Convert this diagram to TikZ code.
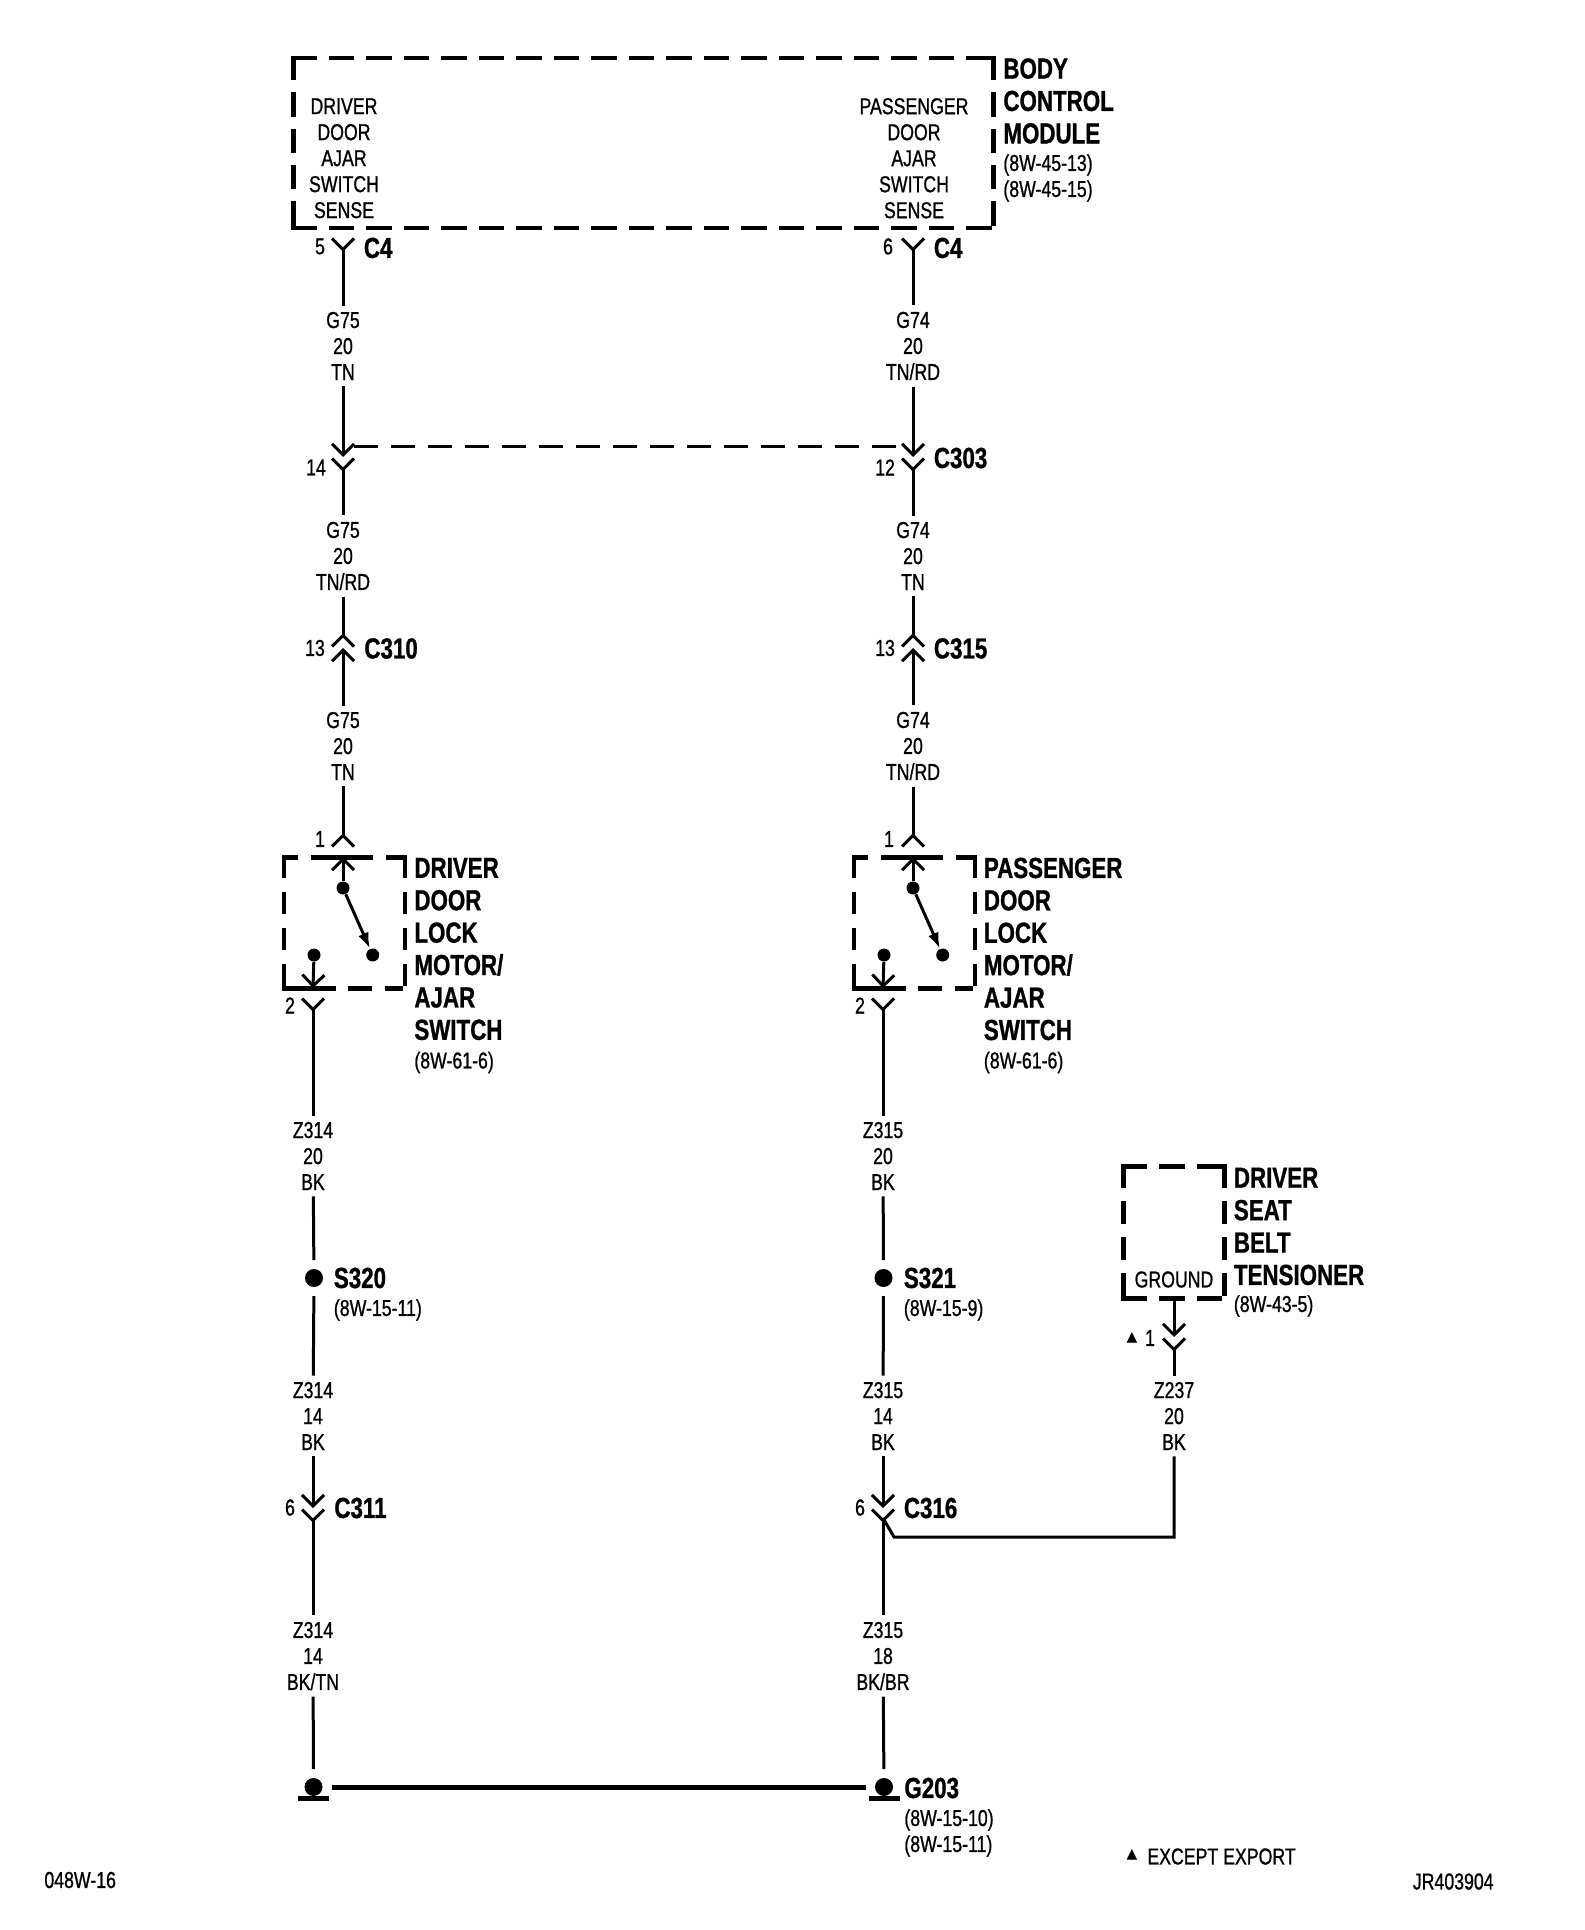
\documentclass[tikz,border=0pt]{standalone}
\usepackage{fontspec}
\setmainfont[FakeStretch=0.77, FakeBold=0.9]{Liberation Sans}
\newfontfamily\symfont{DejaVu Sans}
\usetikzlibrary{arrows.meta}
\tikzset{
  chev/.tip={Straight Barb[length=5.5pt, width=11pt, line width=1.5pt]},
  rchev/.tip={chev[reversed]},
  wire/.style={line width=1.5pt},
  thintext/.style={font=\fontsize{11.5pt}{13pt}\selectfont, inner sep=0pt},
  wirelabel/.style={thintext, align=center, inner sep=3pt},
  boldtext/.style={font=\fontsize{14.5pt}{16.2pt}\selectfont\bfseries, inner sep=0pt, align=left, anchor=west},
  reftext/.style={thintext, align=left, anchor=west},
  modbox/.style={inner sep=0pt, outer sep=0pt},
  boxedge/.style={line width=2.1pt, line cap=rect, dash pattern=#1},
  contact/.style={circle, fill, inner sep=0pt, minimum size=6.5pt},
  splice/.style={circle, fill, inner sep=0pt, minimum size=9pt, outer sep=4.5pt},
  gndbar/.style={fill, inner sep=0pt, minimum width=15.5pt, minimum height=2.6pt}
}
\begin{document}
\begin{tikzpicture}[x=0.5pt, y=-0.5pt]
  \useasboundingbox (0,0) rectangle (1584,1930);
  % Body control module
  \node[modbox, minimum width=350pt, minimum height=85pt] (bcm) at (643.5,143) {};
  \draw[boxedge={on 10.65pt off 8.1pt}] (bcm.north west) -- (bcm.north east);
  \draw[boxedge={on 10.65pt off 8.1pt}] (bcm.south west) -- (bcm.south east);
  \draw[boxedge={on 10.1pt off 8.1pt}] (bcm.north west) -- (bcm.south west);
  \draw[boxedge={on 10.1pt off 8.1pt}] (bcm.north east) -- (bcm.south east);
  \node[thintext, align=center] (drvsense) at (344,158.3) {DRIVER\\DOOR\\AJAR\\SWITCH\\SENSE};
  \node[thintext, align=center] (passense) at (914,158.3) {PASSENGER\\DOOR\\AJAR\\SWITCH\\SENSE};
  \node[boldtext] (bcmname) at (1003,101) {BODY\\CONTROL\\MODULE};
  \node[reftext] (bcmref) at (1003,178) {(8W-45-13)\\(8W-45-15)};

  % Connectors
  \coordinate (c4l) at (343,237);
  \coordinate (c4r) at (913,237);
  \coordinate (c303l) at (343,457);
  \coordinate (c303r) at (913,457);
  \coordinate (c310) at (343,648);
  \coordinate (c315) at (913,648);
  \coordinate (swlout) at (343,848);
  \coordinate (swlin) at (343,857);
  \coordinate (swrout) at (913,848);
  \coordinate (swrin) at (913,857);
  \coordinate (swlback) at (313,988);
  \coordinate (swlpin) at (313,997);
  \coordinate (swrback) at (883,988);
  \coordinate (swrpin) at (883,997);
  \coordinate (c311) at (313,1508);
  \coordinate (c316) at (883,1508);
  \coordinate (c316tip) at (883,1518);
  \coordinate (c316bend) at (894,1537);
  \coordinate (beltpin) at (1174,1337);
  \coordinate (c303ldash) at (354,447);
  \coordinate (c303rdash) at (902,447);

  \node[thintext] (pin5) at (320,246.5) {5};
  \node[thintext] (pin6) at (888,246.5) {6};
  \node[boldtext] (c4lname) at (363.5,248) {C4};
  \node[boldtext] (c4rname) at (933.5,248) {C4};
  \node[thintext] (pin14) at (316,467.5) {14};
  \node[thintext] (pin12) at (885,467.5) {12};
  \node[boldtext] (c303name) at (933.5,458) {C303};
  \node[thintext] (pin13l) at (315,648) {13};
  \node[thintext] (pin13r) at (885,648) {13};
  \node[boldtext] (c310name) at (364,648.5) {C310};
  \node[boldtext] (c315name) at (933.5,648.5) {C315};
  \node[thintext] (pin1l) at (320,839) {1};
  \node[thintext] (pin1r) at (889,839) {1};
  \node[thintext] (pin2l) at (290,1005.5) {2};
  \node[thintext] (pin2r) at (860,1005.5) {2};
  \node[thintext] (pin6l) at (290,1507.5) {6};
  \node[thintext] (pin6r) at (860,1507.5) {6};
  \node[boldtext] (c311name) at (334,1508) {C311};
  \node[boldtext] (c316name) at (903.5,1508) {C316};

  % Wire labels
  \node[wirelabel] (g75a) at (343,346) {G75\\20\\TN};
  \node[wirelabel] (g74a) at (913,346) {G74\\20\\TN/RD};
  \node[wirelabel] (g75b) at (343,556) {G75\\20\\TN/RD};
  \node[wirelabel] (g74b) at (913,556) {G74\\20\\TN};
  \node[wirelabel] (g75c) at (343,746) {G75\\20\\TN};
  \node[wirelabel] (g74c) at (913,746) {G74\\20\\TN/RD};
  \node[wirelabel] (z314a) at (313,1156) {Z314\\20\\BK};
  \node[wirelabel] (z315a) at (883,1156) {Z315\\20\\BK};
  \node[wirelabel] (z314b) at (313,1416) {Z314\\14\\BK};
  \node[wirelabel] (z315b) at (883,1416) {Z315\\14\\BK};
  \node[wirelabel] (z237) at (1174,1416) {Z237\\20\\BK};
  \node[wirelabel] (z314c) at (313,1656) {Z314\\14\\BK/TN};
  \node[wirelabel] (z315c) at (883,1656) {Z315\\18\\BK/BR};

  % Door lock switches
  \node[modbox, minimum width=60.5pt, minimum height=65.5pt] (swl) at (344.5,923) {};
  \node[modbox, minimum width=60.5pt, minimum height=65.5pt] (swr) at (914.5,923) {};
  \foreach \sw in {swl,swr}{
    \draw[boxedge={on 5.9pt off 8.6pt on 28.9pt off 8.6pt on 6.4pt off 8.6pt}] (\sw.north west) -- (\sw.north east);
    \draw[boxedge={on 24.9pt off 8.1pt on 9.9pt off 8.6pt on 6.9pt off 20pt}] (\sw.south west) -- (\sw.south east);
    \draw[boxedge={on 9pt off 9.1pt}] (\sw.north west) -- (\sw.south west);
    \draw[boxedge={on 9pt off 9.1pt}] (\sw.north east) -- (\sw.south east);
  }
  \node[contact] (swlcom) at (343,888) {};
  \node[contact] (swlno) at (372.7,955) {};
  \node[contact] (swlnc) at (314,955) {};
  \node[contact] (swrcom) at (913,888) {};
  \node[contact] (swrno) at (942.7,955) {};
  \node[contact] (swrnc) at (884,955) {};
  \node[boldtext] (swlname) at (414,949) {DRIVER\\DOOR\\LOCK\\MOTOR/\\AJAR\\SWITCH};
  \node[boldtext] (swrname) at (983.5,949) {PASSENGER\\DOOR\\LOCK\\MOTOR/\\AJAR\\SWITCH};
  \node[reftext] (swlref) at (414,1062.5) {(8W-61-6)};
  \node[reftext] (swrref) at (983.5,1062.5) {(8W-61-6)};

  % Seat belt tensioner
  \node[modbox, minimum width=50.5pt, minimum height=66pt] (belt) at (1174,1232.5) {};
  \draw[boxedge={on 10.74pt off 8.1pt}] (belt.north west) -- (belt.north east);
  \draw[boxedge={on 10.74pt off 8.1pt}] (belt.south west) -- (belt.south east);
  \draw[boxedge={on 9.5pt off 8.6pt}] (belt.north west) -- (belt.south west);
  \draw[boxedge={on 9.5pt off 8.6pt}] (belt.north east) -- (belt.south east);
  \node[thintext] (beltgnd) at (1174,1279.5) {GROUND};
  \node[boldtext] (beltname) at (1233.5,1226.5) {DRIVER\\SEAT\\BELT\\TENSIONER};
  \node[reftext] (beltref) at (1233.5,1306) {(8W-43-5)};
  \node[thintext, font=\symfont\fontsize{7pt}{8pt}\selectfont] (beltmark) at (1132,1338) {▲};
  \node[thintext] (pin1b) at (1150,1338) {1};

  % Splices and grounds
  \node[splice] (s320) at (314,1278) {};
  \node[splice] (s321) at (883.5,1278) {};
  \node[boldtext] (s320name) at (333.5,1278) {S320};
  \node[boldtext] (s321name) at (903.5,1278) {S321};
  \node[reftext] (s320ref) at (333.5,1310) {(8W-15-11)};
  \node[reftext] (s321ref) at (903.5,1310) {(8W-15-9)};
  \node[splice] (gndl) at (313.5,1787) {};
  \node[splice] (gndr) at (884,1787) {};
  \node[gndbar] (gndlbar) at (313.5,1798.5) {};
  \node[gndbar] (gndrbar) at (884,1798.5) {};
  \node[boldtext] (g203) at (904,1788) {G203};
  \node[reftext] (g203ref) at (904,1833) {(8W-15-10)\\(8W-15-11)};

  % Wires
  \draw[wire, rchev-] (c4l) -- (g75a);
  \draw[wire, rchev-] (c4r) -- (g74a);
  \draw[wire, -chev] (g75a) -- (c303l);
  \draw[wire, -chev] (g74a) -- (c303r);
  \draw[wire, rchev-] (c303l) -- (g75b);
  \draw[wire, rchev-] (c303r) -- (g74b);
  \draw[wire, -rchev] (g75b) -- (c310);
  \draw[wire, -rchev] (g74b) -- (c315);
  \draw[wire, -chev] (g75c) -- (c310);
  \draw[wire, -chev] (g74c) -- (c315);
  \draw[wire, -rchev] (g75c) -- (swlout);
  \draw[wire, -rchev] (g74c) -- (swrout);
  \draw[wire, -chev] (swlcom) -- (swlin);
  \draw[wire, -chev] (swrcom) -- (swrin);
  \draw[wire, -{Latex[length=8pt, width=5.5pt]}] (swlcom) -- (swlno);
  \draw[wire, -{Latex[length=8pt, width=5.5pt]}] (swrcom) -- (swrno);
  \draw[wire, -chev] (swlnc) -- (swlback);
  \draw[wire, -chev] (swrnc) -- (swrback);
  \draw[wire, rchev-] (swlpin) -- (z314a);
  \draw[wire, rchev-] (swrpin) -- (z315a);
  \draw[wire] (z314a) -- (s320);
  \draw[wire] (z315a) -- (s321);
  \draw[wire] (s320) -- (z314b);
  \draw[wire] (s321) -- (z315b);
  \draw[wire, -chev] (z314b) -- (c311);
  \draw[wire, -chev] (z315b) -- (c316);
  \draw[wire, rchev-] (c311) -- (z314c);
  \draw[wire, rchev-] (c316) -- (z315c);
  \draw[wire] (z314c) -- (gndl);
  \draw[wire] (z315c) -- (gndr);
  \draw[wire, -chev] (belt) -- (beltpin);
  \draw[wire, rchev-] (beltpin) -- (z237);
  \draw[wire] (z237) |- (c316bend) -- (c316tip);
  \draw[line width=2.5pt] (gndl) -- (gndr);
  \draw[wire, dash pattern=on 12pt off 6.5pt] (c303ldash) -- (c303rdash);

  % Page notes
  \node[thintext, font=\symfont\fontsize{7pt}{8pt}\selectfont] (notemark) at (1132,1855) {▲};
  \node[thintext, anchor=west] (note) at (1147,1856.5) {EXCEPT EXPORT};
  \node[thintext, anchor=east] (figid) at (1494,1881.5) {JR403904};
  \node[thintext, anchor=west] (pageid) at (44,1880) {048W-16};
\end{tikzpicture}
\end{document}
